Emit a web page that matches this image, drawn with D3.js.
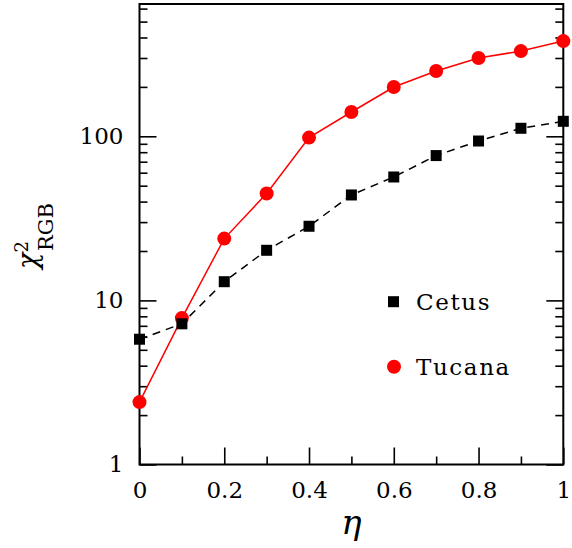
<!DOCTYPE html>
<html>
<head>
<meta charset="utf-8">
<script src="https://cdn.jsdelivr.net/npm/d3@7"></script>
<style>
  html, body { margin: 0; padding: 0; background: #fff; }
  svg { display: block; }
  text { font-family: "DejaVu Serif", serif; }
</style>
</head>
<body>
<svg id="chart" width="572" height="548"></svg>
<script>
// ---- data ----
const eta = [0, 0.1, 0.2, 0.3, 0.4, 0.5, 0.6, 0.7, 0.8, 0.9, 1.0];
const cetus = [5.8, 7.2, 13.0, 20.2, 28.3, 43.9, 56.5, 76.3, 93.6, 111.9, 123.4];
const tucana = [2.4, 7.8, 23.8, 44.8, 98.2, 140.6, 199.6, 249.8, 299.8, 330.6, 380.4];
const xMajorTicks = [0, 0.2, 0.4, 0.6, 0.8, 1];
const xMinorTicks = [0.1, 0.3, 0.5, 0.7, 0.9];
const yMajorTicks = [1, 10, 100];
const yMinorTicks = [2, 3, 4, 5, 6, 7, 8, 9, 20, 30, 40, 50, 60, 70, 80, 90, 200, 300, 400, 500, 600];
const seriesNames = ["Cetus", "Tucana"];

// ---- layout ----
const L = 139.5, R = 563.3, T = 4, B = 464.5;
const svg = d3.select("#chart");
const x = d3.scaleLinear().domain([0, 1]).range([L, R]);
const y = d3.scaleLog().domain([1, 640]).range([B, T]);

const fmtX = d => (d === 0 ? "0" : d === 1 ? "1" : d3.format(".1f")(d));

function styleAxis(g, labels) {
  g.select(".domain").remove();
  g.selectAll(".tick line").attr("stroke", "#000").attr("stroke-width", 1.6);
  g.selectAll(".tick text")
    .attr("fill", "#000")
    .style("font-family", '"DejaVu Serif", serif')
    .style("font-size", "23px");
  if (!labels) g.selectAll(".tick text").remove();
}

// bottom axis
svg.append("g").attr("transform", `translate(0,${B})`)
  .call(d3.axisBottom(x).tickValues(xMajorTicks).tickSize(-17).tickPadding(17.5).tickFormat(fmtX))
  .call(g => styleAxis(g, true));
svg.append("g").attr("transform", `translate(0,${B})`)
  .call(d3.axisBottom(x).tickValues(xMinorTicks).tickSize(-8))
  .call(g => styleAxis(g, false));

// left axis
svg.append("g").attr("transform", `translate(${L},0)`)
  .call(d3.axisLeft(y).tickValues(yMajorTicks).tickSize(-17).tickPadding(16).tickFormat(d3.format("d")))
  .call(g => styleAxis(g, true));
svg.append("g").attr("transform", `translate(${L},0)`)
  .call(d3.axisLeft(y).tickValues(yMinorTicks).tickSize(-8))
  .call(g => styleAxis(g, false));

// right axis
svg.append("g").attr("transform", `translate(${R},0)`)
  .call(d3.axisRight(y).tickValues(yMajorTicks).tickSize(-17))
  .call(g => styleAxis(g, false));
svg.append("g").attr("transform", `translate(${R},0)`)
  .call(d3.axisRight(y).tickValues(yMinorTicks).tickSize(-8))
  .call(g => styleAxis(g, false));

// frame
svg.append("rect")
  .attr("x", L).attr("y", T).attr("width", R - L).attr("height", B - T)
  .attr("fill", "none").attr("stroke", "#000").attr("stroke-width", 2);

// ---- series ----
const line = d3.line().x(d => x(d[0])).y(d => y(d[1]));
const tucData = eta.map((e, i) => [e, tucana[i]]);
const cetData = eta.map((e, i) => [e, cetus[i]]);

svg.append("path").datum(tucData).attr("d", line)
  .attr("fill", "none").attr("stroke", "#ff0000").attr("stroke-width", 1.5);
svg.append("g").selectAll("circle").data(tucData).join("circle")
  .attr("cx", d => x(d[0])).attr("cy", d => y(d[1])).attr("r", 7)
  .attr("fill", "#ff0000");

svg.append("path").datum(cetData).attr("d", line)
  .attr("fill", "none").attr("stroke", "#000").attr("stroke-width", 1.5)
  .attr("stroke-dasharray", "8,6");
const sq = 11;
svg.append("g").selectAll("rect").data(cetData).join("rect")
  .attr("x", d => x(d[0]) - sq / 2).attr("y", d => y(d[1]) - sq / 2)
  .attr("width", sq).attr("height", sq).attr("fill", "#000");

// ---- legend ----
svg.append("rect").attr("x", 393.5 - sq / 2).attr("y", 301.7 - sq / 2)
  .attr("width", sq).attr("height", sq).attr("fill", "#000");
svg.append("text").attr("x", 416).attr("y", 309.5)
  .style("font-size", "23px").style("letter-spacing", "1.6px").text(seriesNames[0]);
svg.append("circle").attr("cx", 394).attr("cy", 366.7).attr("r", 7).attr("fill", "#ff0000");
svg.append("text").attr("x", 416).attr("y", 375)
  .style("font-size", "23px").style("letter-spacing", "1.6px").text(seriesNames[1]);

// ---- axis titles ----
svg.append("text").attr("x", (L + R) / 2).attr("y", 534)
  .attr("text-anchor", "middle")
  .style("font-size", "34px").style("font-style", "italic").text("η");

const yt = svg.append("text")
  .attr("transform", "translate(37,236) rotate(-90)")
  .attr("text-anchor", "middle");
yt.append("tspan").style("font-size", "27px").style("font-style", "italic").text("χ");
yt.append("tspan").attr("dy", -9).style("font-size", "18px").text("2");
yt.append("tspan").attr("dx", -10).attr("dy", 25).style("font-size", "21px").text("RGB");
</script>
</body>
</html>
